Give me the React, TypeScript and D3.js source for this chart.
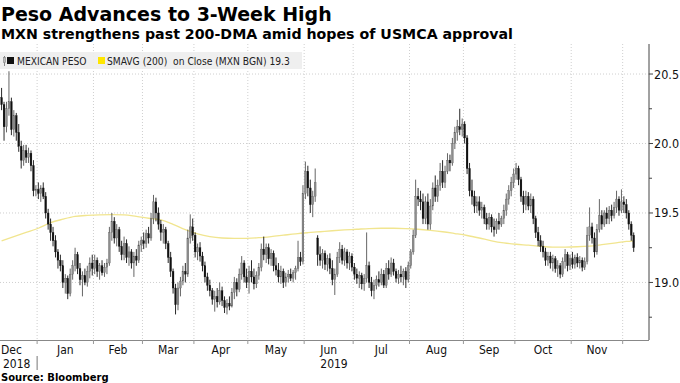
import React from 'react';
import * as d3 from 'd3';

const title = 'Peso Advances to 3-Week High';
const subtitle = 'MXN strengthens past 200-DMA amid hopes of USMCA approval';
const sourceText = 'Source: Bloomberg';
const seriesName = 'MEXICAN PESO';
const smaName = 'SMAVG (200)  on Close (MXN BGN) 19.3';

// Daily (weekday) candles, 11 Dec 2018 .. 6 Dec 2019
const opens = [
  20.33,20.28,20.12,20.25,20.30,20.10,20.20,20.08,19.98,19.88,19.95,19.90,19.93,19.84,19.66,
  19.67,19.64,19.68,19.62,19.50,19.42,19.36,19.30,19.22,19.16,19.12,19.00,19.03,18.92,19.06,19.12,19.20,19.10,19.02,19.05,19.00,19.08,19.14,
  19.10,19.16,19.08,19.12,19.07,19.11,19.14,19.36,19.44,19.32,19.38,19.26,19.20,19.28,19.18,19.22,19.14,19.19,19.16,19.27,
  19.30,19.28,19.35,19.32,19.46,19.58,19.50,19.42,19.36,19.38,19.28,19.18,19.08,18.96,18.84,18.96,19.01,19.08,19.06,19.32,19.40,
  19.34,19.22,19.25,19.19,19.12,19.04,18.98,18.94,18.88,18.90,18.86,18.94,18.87,18.82,18.85,18.83,18.93,19.00,18.95,19.06,19.14,19.04,
  19.00,19.08,19.04,18.99,19.05,19.11,19.24,19.20,19.25,19.17,19.21,19.12,19.09,19.04,19.08,19.00,19.04,19.06,19.03,19.07,19.10,19.18,19.15,
  19.64,19.80,19.68,19.56,19.62,19.32,19.20,19.16,19.21,19.13,19.17,19.10,19.02,19.06,19.18,19.24,19.16,19.22,19.14,19.19,
  19.11,19.06,19.03,19.05,18.99,19.03,19.12,19.00,18.94,18.98,19.02,19.00,19.06,18.98,19.10,19.06,19.14,19.08,19.03,19.06,19.04,19.08,19.02,
  19.12,19.22,19.34,19.62,19.60,19.58,19.46,19.58,19.42,19.55,19.68,19.62,19.70,19.80,19.72,19.80,19.88,19.86,20.00,20.08,20.12,20.10,
  20.14,20.04,19.82,19.66,19.62,19.55,19.58,19.52,19.54,19.46,19.42,19.47,19.40,19.38,19.44,19.42,19.46,19.52,19.60,19.66,19.72,
  19.78,19.82,19.74,19.62,19.56,19.62,19.55,19.60,19.46,19.36,19.30,19.26,19.22,19.16,19.19,19.14,19.17,19.10,19.12,19.06,19.15,19.20,19.12,
  19.17,19.13,19.18,19.14,19.16,19.11,19.15,19.34,19.40,19.32,19.22,19.38,19.48,19.42,19.50,19.46,19.52,19.48,19.54,19.60,19.52,
  19.58,19.56,19.50,19.42,19.34,
];
const highs = [
  20.40,20.30,20.30,20.52,20.33,20.24,20.22,20.14,20.02,19.99,19.99,19.97,19.95,19.88,19.70,
  19.72,19.70,19.72,19.65,19.53,19.46,19.40,19.34,19.24,19.20,19.16,19.06,19.05,19.10,19.16,19.25,19.22,19.14,19.08,19.10,19.12,19.18,19.20,
  19.20,19.18,19.14,19.16,19.14,19.17,19.40,19.50,19.47,19.42,19.40,19.30,19.33,19.31,19.26,19.24,19.22,19.24,19.30,19.33,
  19.36,19.38,19.40,19.50,19.63,19.61,19.54,19.45,19.42,19.40,19.30,19.22,19.10,18.99,19.00,19.04,19.12,19.14,19.38,19.49,19.46,
  19.36,19.28,19.29,19.22,19.15,19.07,19.02,18.96,18.94,18.96,19.00,18.97,18.90,18.88,18.90,18.96,19.04,19.03,19.10,19.19,19.16,19.10,
  19.12,19.16,19.10,19.08,19.14,19.28,19.33,19.28,19.28,19.24,19.23,19.18,19.14,19.12,19.10,19.07,19.09,19.10,19.09,19.12,19.30,19.22,19.70,
  19.87,19.84,19.74,19.66,19.82,19.34,19.26,19.24,19.23,19.20,19.21,19.16,19.10,19.22,19.29,19.27,19.25,19.24,19.22,19.21,
  19.14,19.10,19.08,19.07,19.06,19.36,19.15,19.04,19.02,19.05,19.08,19.10,19.09,19.14,19.16,19.18,19.17,19.10,19.09,19.12,19.10,19.11,19.15,
  19.24,19.38,19.74,19.68,19.66,19.64,19.62,19.64,19.60,19.72,19.77,19.74,19.86,19.88,19.84,19.93,19.92,20.04,20.12,20.17,20.25,20.18,
  20.16,20.06,19.86,19.74,19.66,19.62,19.62,19.58,19.56,19.50,19.50,19.49,19.46,19.46,19.50,19.48,19.56,19.64,19.70,19.76,19.82,
  19.86,19.84,19.76,19.66,19.66,19.65,19.64,19.62,19.48,19.40,19.34,19.30,19.25,19.22,19.22,19.20,19.19,19.16,19.14,19.18,19.24,19.22,19.20,
  19.22,19.20,19.21,19.19,19.18,19.18,19.40,19.54,19.43,19.36,19.42,19.60,19.52,19.52,19.54,19.55,19.56,19.58,19.66,19.62,19.67,
  19.62,19.60,19.52,19.44,19.36,
];
const lows = [
  20.24,20.02,20.08,20.20,20.06,20.05,20.02,19.94,19.82,19.84,19.86,19.86,19.80,19.62,19.62,
  19.60,19.58,19.60,19.46,19.38,19.30,19.26,19.18,19.10,19.08,18.96,18.92,18.88,18.90,19.02,19.08,19.06,18.98,18.90,18.98,18.97,19.03,19.05,
  19.06,19.04,19.02,19.05,19.04,19.06,19.12,19.30,19.28,19.26,19.22,19.16,19.16,19.14,19.12,19.10,19.04,19.12,19.14,19.22,
  19.24,19.25,19.28,19.30,19.42,19.44,19.38,19.30,19.28,19.24,19.14,19.04,18.92,18.77,18.80,18.90,18.98,19.00,19.04,19.28,19.30,
  19.18,19.16,19.15,19.08,19.00,18.94,18.90,18.84,18.79,18.82,18.84,18.83,18.78,18.77,18.80,18.82,18.88,18.90,18.93,19.02,19.00,18.96,
  18.92,19.00,18.95,18.96,19.02,19.08,19.16,19.14,19.13,19.12,19.08,19.05,19.00,18.99,18.96,18.97,19.00,19.01,19.00,19.02,19.08,19.12,19.13,
  19.60,19.62,19.50,19.47,19.58,19.12,19.12,19.10,19.09,19.08,19.06,18.98,18.91,19.04,19.14,19.13,19.12,19.10,19.09,19.08,
  19.02,18.99,18.96,18.95,18.94,19.00,18.96,18.90,18.88,18.95,18.97,18.98,18.96,18.96,19.02,19.04,19.05,19.00,18.99,19.00,18.98,18.96,19.00,
  19.10,19.20,19.32,19.55,19.52,19.42,19.42,19.38,19.38,19.52,19.58,19.58,19.66,19.68,19.68,19.78,19.80,19.84,19.96,20.02,20.06,20.05,
  20.00,19.78,19.62,19.56,19.50,19.50,19.48,19.46,19.42,19.38,19.38,19.36,19.33,19.35,19.38,19.40,19.42,19.48,19.56,19.62,19.68,
  19.74,19.70,19.58,19.50,19.52,19.52,19.50,19.42,19.32,19.26,19.22,19.18,19.12,19.12,19.10,19.08,19.07,19.04,19.03,19.04,19.10,19.08,19.09,
  19.10,19.10,19.11,19.10,19.08,19.09,19.13,19.30,19.28,19.18,19.20,19.36,19.38,19.40,19.42,19.42,19.44,19.46,19.50,19.48,19.50,
  19.50,19.46,19.38,19.30,19.22,
];
const closes = [
  20.28,20.12,20.25,20.30,20.10,20.20,20.08,19.98,19.88,19.95,19.90,19.93,19.84,19.66,19.67,
  19.64,19.68,19.62,19.50,19.42,19.36,19.30,19.22,19.16,19.12,19.00,19.03,18.92,19.06,19.12,19.20,19.10,19.02,19.05,19.00,19.08,19.14,19.10,
  19.16,19.08,19.12,19.07,19.11,19.14,19.36,19.44,19.32,19.38,19.26,19.20,19.28,19.18,19.22,19.14,19.19,19.16,19.27,19.30,
  19.28,19.35,19.32,19.46,19.58,19.50,19.42,19.36,19.38,19.28,19.18,19.08,18.96,18.84,18.96,19.01,19.08,19.06,19.32,19.40,19.34,
  19.22,19.25,19.19,19.12,19.04,18.98,18.94,18.88,18.90,18.86,18.94,18.87,18.82,18.85,18.83,18.93,19.00,18.95,19.06,19.14,19.04,19.00,
  19.08,19.04,18.99,19.05,19.11,19.24,19.20,19.25,19.17,19.21,19.12,19.09,19.04,19.08,19.00,19.04,19.06,19.03,19.07,19.10,19.18,19.15,19.64,
  19.80,19.68,19.56,19.62,19.72,19.20,19.16,19.21,19.13,19.17,19.10,19.02,19.06,19.18,19.24,19.16,19.22,19.14,19.19,19.11,
  19.06,19.03,19.05,18.99,19.03,19.12,19.00,18.94,18.98,19.02,19.00,19.06,18.98,19.10,19.06,19.14,19.08,19.03,19.06,19.04,19.08,19.02,19.12,
  19.22,19.34,19.62,19.60,19.58,19.46,19.58,19.42,19.55,19.68,19.62,19.70,19.80,19.72,19.80,19.88,19.86,20.00,20.08,20.12,20.10,20.14,
  20.04,19.82,19.66,19.62,19.55,19.58,19.52,19.54,19.46,19.42,19.47,19.40,19.38,19.44,19.42,19.46,19.52,19.60,19.66,19.72,19.78,
  19.82,19.74,19.62,19.56,19.62,19.55,19.60,19.46,19.36,19.30,19.26,19.22,19.16,19.19,19.14,19.17,19.10,19.12,19.06,19.15,19.20,19.12,19.17,
  19.13,19.18,19.14,19.16,19.11,19.15,19.34,19.40,19.32,19.22,19.38,19.48,19.42,19.50,19.46,19.52,19.48,19.54,19.60,19.52,19.58,
  19.56,19.50,19.42,19.34,19.25,
];

// 200-day simple moving average, sampled at weekday indexes
const smaIdx = [0,5,10,15,20,25,30,35,40,45,50,55,60,65,70,75,80,85,90,95,100,105,110,115,120,125,130,135,140,145,150,155,160,165,170,175,180,185,190,195,200,205,210,215,220,225,230,235,240,245,250,255,258];
const smaValues = [19.30,19.33,19.36,19.39,19.43,19.455,19.475,19.483,19.487,19.488,19.486,19.475,19.462,19.45,19.418,19.38,19.35,19.33,19.32,19.317,19.318,19.322,19.33,19.34,19.35,19.358,19.365,19.372,19.378,19.383,19.388,19.39,19.39,19.388,19.383,19.375,19.365,19.352,19.338,19.32,19.30,19.285,19.275,19.268,19.26,19.255,19.255,19.257,19.262,19.272,19.283,19.295,19.30];

const yTicks = [19.0, 19.5, 20.0, 20.5];
const yMinorTicks = [18.75, 19.25, 19.75, 20.25];
const monthNames = ['Jan','Feb','Mar','Apr','May','Jun','Jul','Aug','Sep','Oct','Nov','Dec'];

const isWeekday = (d: Date) => d.getDay() !== 0 && d.getDay() !== 6;

const AXIS_FONT = '"DejaVu Sans Condensed", "Liberation Sans Narrow", sans-serif';
const BOLD_FONT = '"DejaVu Sans", Verdana, sans-serif';

export default function App() {
  const plotLeft = 0, plotRight = 649, plotTop = 44, plotBottom = 340;
  const dates = d3.timeDay.range(new Date(2018, 11, 11), new Date(2019, 11, 7)).filter(isWeekday);
  const cal = d3.timeDay.range(new Date(2018, 11, 1), new Date(2020, 0, 1)).filter(isWeekday);
  const offset = cal.findIndex((d) => +d === +dates[0]);

  const x = d3.scaleLinear().domain([-0.65, 264.25]).range([plotLeft, plotRight]);
  const y = d3.scaleLinear().domain([18.586, 20.716]).range([plotBottom, plotTop]);

  const months = d3.groups(cal.map((d, k) => ({ d, i: k - offset })), (o) => `${o.d.getFullYear()}-${o.d.getMonth()}`).map(([key, arr]) => ({
    key,
    month: arr[0].d.getMonth(),
    year: arr[0].d.getFullYear(),
    first: arr[0].i,
    last: arr[arr.length - 1].i,
  }));
  const n = dates.length;
  const boundaries = months.filter((m) => m.first - 0.5 > 0 && m.first - 0.5 < n);
  const labels = months.filter((m) => {
    const cx = x((m.first + m.last) / 2);
    return cx > 0 && cx < 630;
  });
  const years = d3.groups(dates.map((d, i) => ({ d, i })), (o) => o.d.getFullYear()).map(([yr, arr]) => ({
    yr,
    cx: (x(arr[0].i - 0.5) + x(arr[arr.length - 1].i + 0.5)) / 2,
  }));
  const yearBoundary = boundaries.find((m) => m.month === 0)!;

  const smaLine = d3.line<number>()
    .x((_, k) => x(smaIdx[k]))
    .y((v) => y(v))
    .curve(d3.curveMonotoneX)(smaValues) as string;

  const bodyW = 1.8;

  return (
    <div style={{ position: 'absolute', left: 0, top: 0 }}>
      <svg width={680} height={383} style={{ display: 'block', background: '#fff' }}>
        <text x={1} y={21} fontFamily={BOLD_FONT} fontWeight="bold" fontSize={19} fill="#000">{title}</text>
        <text x={1} y={39} fontFamily={BOLD_FONT} fontWeight="bold" fontSize={14.2} fill="#000">{subtitle}</text>

        {/* grid */}
        {yTicks.map((t) => (
          <line key={'g' + t} x1={plotLeft} x2={plotRight} y1={y(t)} y2={y(t)} stroke="#cfcfcf" strokeWidth={1} strokeDasharray="1,2" />
        ))}
        {boundaries.map((m) => (
          <line key={'v' + m.key} x1={x(m.first - 0.5)} x2={x(m.first - 0.5)} y1={plotTop} y2={plotBottom} stroke="#cfcfcf" strokeWidth={1} strokeDasharray="1,2" />
        ))}

        {/* legend */}
        <rect x={0} y={52} width={302} height={17} fill="#eeeeee" opacity={0.92} />
        <line x1={4.5} x2={4.5} y1={56} y2={66} stroke="#888" strokeWidth={1} />
        <rect x={3.5} y={57.5} width={2} height={5} fill="#bbb" stroke="#888" strokeWidth={0.6} />
        <rect x={7} y={57} width={7} height={7} fill="#111" />
        <text x={17} y={64.5} fontFamily={AXIS_FONT} fontSize={10.2} fill="#222">{seriesName}</text>
        <rect x={98} y={57} width={7} height={7} fill="#ffe600" />
        <text x={107} y={64.5} fontFamily={AXIS_FONT} fontSize={10.2} fill="#222" style={{ whiteSpace: 'pre' }}>{smaName}</text>

        {/* SMA */}
        <path d={smaLine} fill="none" stroke="#f1e58f" strokeWidth={1.3} />

        {/* candles */}
        {dates.map((d, i) => {
          const o = opens[i], c = closes[i];
          const up = c >= o;
          const cx = x(i);
          const top = y(Math.max(o, c));
          const bh = Math.max(1, y(Math.min(o, c)) - top);
          return (
            <g key={i}>
              <line x1={cx} x2={cx} y1={y(highs[i])} y2={y(lows[i])} stroke={up ? '#555' : '#111'} strokeWidth={0.9} />
              <rect x={cx - bodyW / 2} y={top} width={bodyW} height={bh} fill={up ? '#8d8d8d' : '#111'} stroke={up ? '#555' : '#111'} strokeWidth={0.3} />
            </g>
          );
        })}

        {/* axes */}
        <line x1={plotRight} x2={plotRight} y1={plotTop} y2={plotBottom} stroke="#444" strokeWidth={1} />
        <line x1={plotLeft} x2={plotRight} y1={plotBottom + 0.5} y2={plotBottom + 0.5} stroke="#888" strokeWidth={1} />
        {yTicks.map((t) => (
          <g key={'t' + t}>
            <line x1={plotRight} x2={plotRight + 4} y1={y(t)} y2={y(t)} stroke="#444" />
            <text x={plotRight + 5} y={y(t) + 4.5} fontFamily={AXIS_FONT} fontSize={12.5} fill="#111">{t.toFixed(1)}</text>
          </g>
        ))}
        {yMinorTicks.map((t) => (
          <line key={'m' + t} x1={plotRight} x2={plotRight + 3} y1={y(t)} y2={y(t)} stroke="#444" />
        ))}
        {boundaries.map((m) => (
          <line key={'bt' + m.key} x1={x(m.first - 0.5)} x2={x(m.first - 0.5)} y1={plotBottom} y2={plotBottom + 4} stroke="#999" />
        ))}
        {labels.map((m) => (
          <text key={'l' + m.key} x={x((m.first + m.last) / 2)} y={354} textAnchor="middle" fontFamily={AXIS_FONT} fontSize={12} fill="#111">{monthNames[m.month]}</text>
        ))}
        {years.map((yy) => (
          <text key={'y' + yy.yr} x={yy.cx - 2} y={368} textAnchor="middle" fontFamily={AXIS_FONT} fontSize={12} fill="#111">{yy.yr}</text>
        ))}
        <line x1={x(yearBoundary.first - 0.5)} x2={x(yearBoundary.first - 0.5)} y1={356} y2={370} stroke="#777" />

        <text x={1} y={381} fontFamily={BOLD_FONT} fontWeight="bold" fontSize={10} fill="#000">{sourceText}</text>
      </svg>
    </div>
  );
}
